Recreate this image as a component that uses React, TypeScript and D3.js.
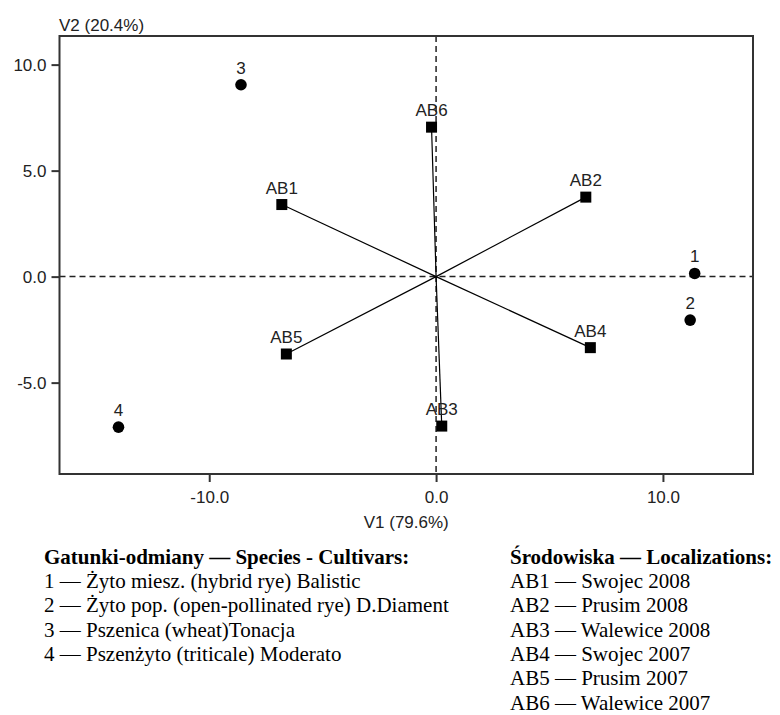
import React, { useEffect, useRef } from 'react';
import * as d3 from 'd3';

// cultivars (circles)
const speciesIds = ['1', '2', '3', '4'];
const speciesV1 = [11.4, 11.2, -8.6, -14.0];
const speciesV2 = [0.15, -2.05, 9.05, -7.1];

// environments (squares + vectors)
const envIds = ['AB1', 'AB2', 'AB3', 'AB4', 'AB5', 'AB6'];
const envV1 = [-6.8, 6.6, 0.25, 6.8, -6.6, -0.2];
const envV2 = [3.4, 3.75, -7.05, -3.35, -3.65, 7.05];

const xTicks = [-10, 0, 10];
const yTicks = [10, 5, 0, -5];
const xTitle = 'V1 (79.6%)';
const yTitle = 'V2 (20.4%)';

const speciesTitle = 'Gatunki-odmiany — Species - Cultivars:';
const speciesNames = [
  '1 — Żyto miesz. (hybrid rye) Balistic',
  '2 — Żyto pop. (open-pollinated rye) D.Diament',
  '3 — Pszenica (wheat)Tonacja',
  '4 — Pszenżyto (triticale) Moderato',
];
const envTitle = 'Środowiska — Localizations:';
const envNames = [
  'AB1 — Swojec 2008',
  'AB2 — Prusim 2008',
  'AB3 — Walewice 2008',
  'AB4 — Swojec 2007',
  'AB5 — Prusim 2007',
  'AB6 — Walewice 2007',
];

const SANS = '"Liberation Sans", Arial, sans-serif';
const SERIF = '"Liberation Serif", "Times New Roman", serif';

export default function App() {
  const ref = useRef<SVGSVGElement>(null);

  useEffect(() => {
    document.body.style.margin = '0';
    const svg = d3.select(ref.current);
    svg.selectAll('*').remove();

    const x = d3.scaleLinear().domain([-16.6, 13.97]).range([59.5, 753]);
    const y = d3.scaleLinear().domain([11.35, -9.31]).range([36, 474]);
    const fmt = (d: any) => (+d).toFixed(1);

    // zero reference lines
    svg.append('line')
      .attr('x1', x(0)).attr('x2', x(0))
      .attr('y1', y(11.35)).attr('y2', y(-9.31))
      .attr('stroke', '#222').attr('stroke-width', 1.5)
      .attr('stroke-dasharray', '6,4');
    svg.append('line')
      .attr('x1', x(-16.6)).attr('x2', x(13.97))
      .attr('y1', y(0)).attr('y2', y(0))
      .attr('stroke', '#222').attr('stroke-width', 1.5)
      .attr('stroke-dasharray', '6,4');

    // axes
    const gx = svg.append('g')
      .attr('transform', 'translate(0,474)')
      .call(d3.axisBottom(x).tickValues(xTicks).tickSize(8).tickPadding(9).tickFormat(fmt));
    const gy = svg.append('g')
      .attr('transform', 'translate(59.5,0)')
      .call(d3.axisLeft(y).tickValues(yTicks).tickSize(8).tickPadding(5).tickFormat(fmt));
    for (const g of [gx, gy]) {
      g.select('.domain').remove();
      g.selectAll('line').attr('stroke', '#333').attr('stroke-width', 2);
      g.selectAll('text')
        .attr('font-family', SANS)
        .attr('font-size', 17)
        .attr('fill', '#222');
    }

    // frame
    svg.append('rect')
      .attr('x', 59.5).attr('y', 36)
      .attr('width', 753 - 59.5).attr('height', 474 - 36)
      .attr('fill', 'none').attr('stroke', '#333').attr('stroke-width', 2);

    // axis titles
    svg.append('text')
      .attr('x', 59).attr('y', 31)
      .attr('font-family', SANS).attr('font-size', 17).attr('fill', '#222')
      .text(yTitle);
    svg.append('text')
      .attr('x', (59.5 + 753) / 2).attr('y', 528)
      .attr('text-anchor', 'middle')
      .attr('font-family', SANS).attr('font-size', 17).attr('fill', '#222')
      .text(xTitle);

    // environment vectors
    svg.selectAll('.vec')
      .data(envIds)
      .enter()
      .append('line')
      .attr('class', 'vec')
      .attr('x1', x(0)).attr('y1', y(0))
      .attr('x2', (d, i) => x(envV1[i]))
      .attr('y2', (d, i) => y(envV2[i]))
      .attr('stroke', '#000').attr('stroke-width', 1.2);

    svg.selectAll('.sq')
      .data(envIds)
      .enter()
      .append('rect')
      .attr('class', 'sq')
      .attr('x', (d, i) => x(envV1[i]) - 5.5)
      .attr('y', (d, i) => y(envV2[i]) - 5.5)
      .attr('width', 11).attr('height', 11)
      .attr('fill', '#000');

    svg.selectAll('.sqlab')
      .data(envIds)
      .enter()
      .append('text')
      .attr('class', 'sqlab')
      .attr('x', (d, i) => x(envV1[i]))
      .attr('y', (d, i) => y(envV2[i]) - 11)
      .attr('text-anchor', 'middle')
      .attr('font-family', SANS).attr('font-size', 17).attr('fill', '#222')
      .text(d => d);

    // cultivar points
    svg.selectAll('.pt')
      .data(speciesIds)
      .enter()
      .append('circle')
      .attr('class', 'pt')
      .attr('cx', (d, i) => x(speciesV1[i]))
      .attr('cy', (d, i) => y(speciesV2[i]))
      .attr('r', 5.8)
      .attr('fill', '#000');

    svg.selectAll('.ptlab')
      .data(speciesIds)
      .enter()
      .append('text')
      .attr('class', 'ptlab')
      .attr('x', (d, i) => x(speciesV1[i]))
      .attr('y', (d, i) => y(speciesV2[i]) - 11)
      .attr('text-anchor', 'middle')
      .attr('font-family', SANS).attr('font-size', 17).attr('fill', '#222')
      .text(d => d);

    // legend
    const legend = (x0: number, title: string, rows: string[]) => {
      svg.append('text')
        .attr('x', x0).attr('y', 564)
        .attr('font-family', SERIF).attr('font-size', 21).attr('font-weight', 'bold')
        .text(title);
      svg.selectAll(null)
        .data(rows)
        .enter()
        .append('text')
        .attr('x', x0)
        .attr('y', (d, i) => 588 + i * 24.3)
        .attr('font-family', SERIF).attr('font-size', 21)
        .text(d => d);
    };
    legend(44, speciesTitle, speciesNames);
    legend(510, envTitle, envNames);
  }, []);

  return <svg ref={ref} width={780} height={715} style={{ display: 'block' }} />;
}
